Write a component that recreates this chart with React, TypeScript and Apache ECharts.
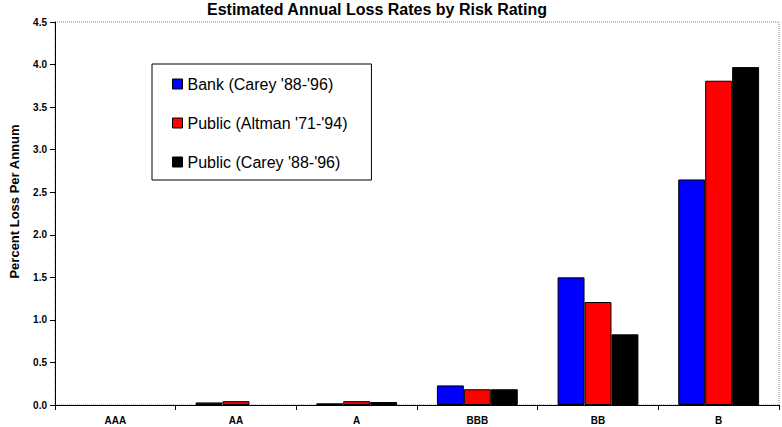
import React, { useEffect, useRef } from "react";
import * as echarts from "echarts";

const categories = ["AAA", "AA", "A", "BBB", "BB", "B"];
const seriesNames = ["Bank (Carey '88-'96)", "Public (Altman '71-'94)", "Public (Carey '88-'96)"];
const bankCarey = [0, 0.03, 0.02, 0.23, 1.5, 2.65];
const publicAltman = [0, 0.045, 0.045, 0.185, 1.21, 3.81];
const publicCarey = [0, 0, 0.035, 0.185, 0.83, 3.97];
const colors = ["#0000FF", "#FF0000", "#000000"];

const FONT = "Arial, 'Liberation Sans', sans-serif";

export default function App() {
  const ref = useRef<HTMLDivElement>(null);
  useEffect(() => {
    if (!ref.current) return;
    const chart = echarts.init(ref.current, undefined, { renderer: "svg" });
    const values = [bankCarey, publicAltman, publicCarey];
    chart.setOption({
      animation: false,
      backgroundColor: "#FFFFFF",
      title: {
        text: "Estimated Annual Loss Rates by Risk Rating",
        left: 207,
        top: 1,
        padding: 0,
        textStyle: { fontFamily: FONT, fontSize: 16, fontWeight: "bold", color: "#000" },
      },
      legend: {
        orient: "vertical",
        left: 152,
        top: 64,
        padding: [12, 24, 10, 20],
        itemGap: 23,
        itemWidth: 10,
        itemHeight: 10,
        icon: "rect",
        backgroundColor: "#FFFFFF",
        borderColor: "#000000",
        borderWidth: 1,
        borderRadius: 0,
        textStyle: { fontFamily: FONT, fontSize: 16, color: "#000" },
        itemStyle: { borderColor: "#000", borderWidth: 1 },
        data: seriesNames,
      },
      grid: {
        left: 46,
        top: 22,
        right: 3,
        bottom: 22,
        show: true,
        borderColor: "#808080",
        borderWidth: 1,
        borderType: "dotted",
      } as any,
      xAxis: {
        type: "category",
        data: categories,
        axisLine: { lineStyle: { color: "#000", width: 1 } },
        axisTick: { show: true, length: 5, lineStyle: { color: "#000" } },
        axisLabel: { fontFamily: FONT, fontSize: 10, fontWeight: "bold", color: "#000", margin: 10 },
      },
      yAxis: {
        type: "value",
        min: 0,
        max: 4.5,
        interval: 0.5,
        name: "Percent Loss Per Annum",
        nameLocation: "middle",
        nameGap: 34,
        nameTextStyle: {
          fontFamily: FONT,
          fontSize: 13,
          fontWeight: "bold",
          color: "#000",
          padding: [0, 0, 0, 24],
        },
        axisLine: { show: true, lineStyle: { color: "#000", width: 1 } },
        axisTick: { show: true, length: 5, lineStyle: { color: "#000" } },
        splitLine: { show: false },
        axisLabel: {
          fontFamily: FONT,
          fontSize: 10,
          fontWeight: "bold",
          color: "#000",
          margin: 8,
          formatter: (v: number) => v.toFixed(1),
        },
      },
      series: seriesNames.map((name, i) => ({
        name,
        type: "bar",
        data: values[i].map((v) =>
          v === 0 ? { value: v, itemStyle: { borderWidth: 0 } } : v
        ),
        barGap: "0%",
        barCategoryGap: "33%",
        itemStyle: { color: colors[i], borderColor: "#000", borderWidth: 1 },
      })),
    });
    return () => chart.dispose();
  }, []);
  return (
    <div
      ref={ref}
      style={{ position: "fixed", left: 0, top: 0, width: 782, height: 427 }}
    />
  );
}
